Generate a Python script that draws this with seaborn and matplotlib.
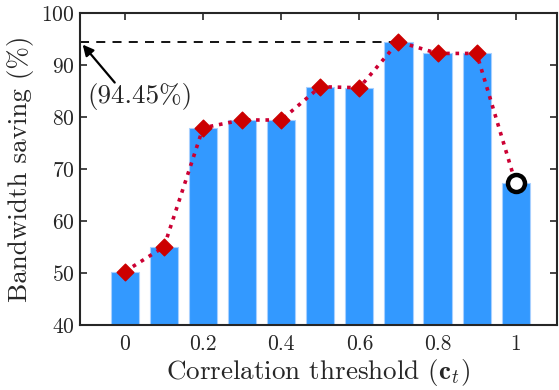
"""
Bandwidth saving vs correlation threshold
"""

import matplotlib
matplotlib.use("Agg")
import matplotlib.pyplot as plt
import seaborn as sns

# data
thresholds = [0, 0.1, 0.2, 0.3, 0.4, 0.5, 0.6, 0.7, 0.8, 0.9, 1.0]
saving = [50.25, 55.0, 77.9, 79.4, 79.4, 85.8, 85.6, 94.45, 92.2, 92.2, 67.2]
best_value = 94.45
best_threshold = 0.7
x_ticks = [0, 0.2, 0.4, 0.6, 0.8, 1]
y_ticks = [40, 50, 60, 70, 80, 90, 100]

sns.set_style("ticks")
plt.rcParams["font.family"] = "serif"
plt.rcParams["font.serif"] = ["cmr10", "DejaVu Serif"]
plt.rcParams["mathtext.fontset"] = "cm"
plt.rcParams["axes.formatter.use_mathtext"] = True

fig = plt.figure(figsize=(5.59, 3.90), dpi=100)
ax = fig.add_axes([0.143, 0.167, 0.853, 0.80])

sns.barplot(x=thresholds, y=saving, native_scale=True, width=0.72,
            color="#3399FF", saturation=1, edgecolor="#a8d0ff", linewidth=0.8, ax=ax)

# dotted trend line + markers
sns.lineplot(x=thresholds, y=saving, color="#cc0033", linestyle=(0, (1, 1.6)),
             linewidth=2.6, ax=ax, zorder=3)
ax.scatter(thresholds[:-1], saving[:-1], marker="D", s=72, color="#cc0000",
           edgecolor="#cc0000", zorder=4)
ax.scatter(thresholds[-1:], saving[-1:], marker="o", s=150, facecolor="white",
           edgecolor="black", linewidth=3.2, zorder=5)

# best saving reference line
xmin, xmax = -0.115, 1.105
ax.plot([xmin, best_threshold], [best_value, best_value], color="black",
        linestyle=(0, (5, 4)), linewidth=1.3, zorder=2)
ax.annotate("", xy=(-0.108, 93.9), xytext=(-0.026, 86.6),
            arrowprops=dict(arrowstyle="-|>", color="black", lw=1.6,
                            mutation_scale=16, shrinkA=0, shrinkB=0))
ax.text(-0.097, 83.9, "(94.45%)", fontsize=19.5, va="center", ha="left")

ax.set_xlim(xmin, xmax)
ax.set_ylim(40, 100)
ax.set_xticks(x_ticks)
ax.set_xticklabels(["0", "0.2", "0.4", "0.6", "0.8", "1"])
ax.set_yticks(y_ticks)
ax.tick_params(direction="in", top=True, right=True, length=5, width=1.2,
               labelsize=15.5, colors="#262626")
ax.tick_params(axis="x", pad=7)
ax.tick_params(axis="y", pad=4)
for s in ax.spines.values():
    s.set_visible(True)
    s.set_linewidth(1.5)
    s.set_color("#262626")

ax.set_xlabel(r"Correlation threshold ($\mathbf{c}_t$)", fontsize=19.5,
              color="#262626", labelpad=2)
ax.set_ylabel("Bandwidth saving (%)", fontsize=19.5, color="#262626", labelpad=5)

fig.savefig("out.png", dpi=100)
print("Saved: out.png")
